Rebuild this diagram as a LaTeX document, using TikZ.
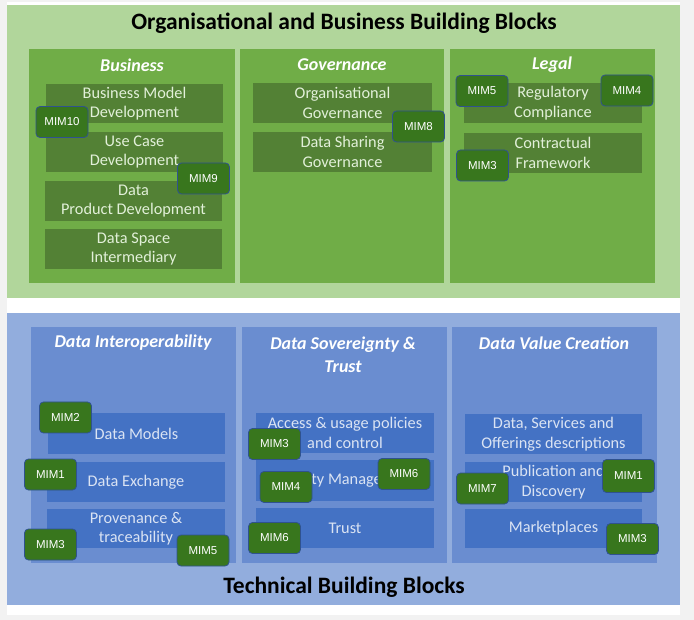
\documentclass[tikz,border=0pt]{standalone}
\usepackage{fontspec}
\setmainfont{Carlito}
\newfontfamily\arialfont{Liberation Sans}
\definecolor{bggray}{HTML}{F2F2F2}
\definecolor{lgreen}{HTML}{B1D69B}
\definecolor{cgreen}{HTML}{70AD47}
\definecolor{dgreen}{HTML}{538135}
\definecolor{gtext}{HTML}{E2F0D9}
\definecolor{lblue}{HTML}{92ADDD}
\definecolor{cblue}{HTML}{6A8DD0}
\definecolor{dblue}{HTML}{4472C4}
\definecolor{btext}{HTML}{DAE3F3}
\definecolor{mimfill}{HTML}{38761D}
\definecolor{mimborder}{HTML}{2F528F}
\tikzset{
  paneltitle/.style={font=\bfseries\fontsize{23.5}{26}\selectfont, text=black, inner sep=0pt},
  coltitle/.style={font=\bfseries\itshape\fontsize{18}{23}\selectfont, text=white, align=center, inner sep=0pt},
  gbox/.style={fill=dgreen, draw=none, minimum width=178pt, minimum height=40pt, inner sep=0pt,
    text=gtext, align=center, font=\fontsize{16.3}{19.5}\selectfont},
  bbox/.style={gbox, fill=dblue, text=btext},
  mim/.style={fill=mimfill, draw=mimborder, line width=0.8pt, rounded corners=4pt,
    minimum width=52pt, minimum height=31pt, inner sep=0pt, text=white,
    font=\arialfont\fontsize{11.5}{13}\selectfont}
}
\begin{document}
\begin{tikzpicture}[x=1pt,y=-1pt]
\useasboundingbox (0,0) rectangle (694,620);
\fill[bggray] (0,0) rectangle (694,620);
\fill[white] (7,2) rectangle (680,615);
% panels
\fill[lgreen] (7,5) rectangle (680,298);
\fill[lblue] (7,313) rectangle (680,605);
\node[paneltitle] (ttop) at (344,23) {Organisational and Business Building Blocks};
\node[paneltitle] (tbot) at (344,587) {Technical Building Blocks};
% green columns
\fill[cgreen] (29,49) rectangle (235,283);
\fill[cgreen] (240,49) rectangle (444,283);
\fill[cgreen] (450,49) rectangle (655,283);
\node[coltitle] (cbus) at (132,65) {Business};
\node[coltitle] (cgov) at (342,65) {Governance};
\node[coltitle] (cleg) at (552,65) {Legal};
% blue columns
\fill[cblue] (31,327) rectangle (236,563);
\fill[cblue] (242,327) rectangle (447,563);
\fill[cblue] (452,327) rectangle (657,563);
\node[coltitle] (cdi) at (133,343) {Data Interoperability};
\node[coltitle] (cds) at (343,354.5) {Data Sovereignty \&\\Trust};
\node[coltitle] (cdv) at (554,343) {Data Value Creation};
% business boxes
\node[gbox, minimum width=177pt, minimum height=39pt] (bmd) at (134.5,103.5) {Business Model\\Development};
\node[gbox, minimum width=177pt] (ucd) at (134.5,152) {Use Case\\Development};
\node[gbox, minimum width=177pt] (dpd) at (133.5,201) {Data\\Product Development};
\node[gbox, minimum width=177pt] (dsi) at (133.5,249) {Data Space\\Intermediary};
% governance
\node[gbox, minimum width=179pt] (og) at (342.5,103) {Organisational\\Governance};
\node[gbox, minimum width=179pt] (dsg) at (342.5,152) {Data Sharing\\Governance};
% legal
\node[gbox] (rc) at (553,103) {Regulatory\\Compliance};
\node[gbox] (cf) at (553,153) {Contractual\\Framework};
% data interoperability
\node[bbox, minimum width=177pt, minimum height=41pt] (dm) at (136.5,433.5) {Data Models};
\node[bbox] (dx) at (136,482) {Data Exchange};
\node[bbox, minimum height=39pt] (pt) at (136,528.5) {Provenance \&\\traceability};
% data sovereignty
\node[bbox] (aup) at (345,433) {Access \& usage policies\\and control};
\node[bbox, minimum height=41pt] (idm) at (345,480.5) {Identity Management};
\node[bbox] (tr) at (345,528) {Trust};
% data value creation
\node[bbox, minimum width=177pt] (dso) at (553.5,434) {Data, Services and\\Offerings descriptions};
\node[bbox, minimum width=177pt] (pd) at (553.5,482) {Publication and\\Discovery};
\node[bbox, minimum width=177pt, minimum height=39pt] (mp) at (553.5,528.5) {Marketplaces};
% MIM badges
\node[mim] (m10) at (62,122) {MIM10};
\node[mim] (m9) at (203.5,178.5) {MIM9};
\node[mim] (m8) at (418.5,126.5) {MIM8};
\node[mim] (m5a) at (482,91) {MIM5};
\node[mim] (m4a) at (627,90.5) {MIM4};
\node[mim] (m3a) at (482.5,165.5) {MIM3};
\node[mim] (m2) at (65.5,417.5) {MIM2};
\node[mim] (m1a) at (50.5,474.5) {MIM1};
\node[mim] (m3b) at (50.5,544.5) {MIM3};
\node[mim] (m5b) at (203,550.5) {MIM5};
\node[mim] (m3c) at (274.5,444) {MIM3};
\node[mim] (m4b) at (286,487) {MIM4};
\node[mim] (m6a) at (404,474) {MIM6};
\node[mim] (m6b) at (274.5,538) {MIM6};
\node[mim, minimum height=33pt] (m1b) at (628.5,476) {MIM1};
\node[mim] (m7) at (482.5,488.5) {MIM7};
\node[mim] (m3d) at (632.5,539) {MIM3};
\end{tikzpicture}
\end{document}
